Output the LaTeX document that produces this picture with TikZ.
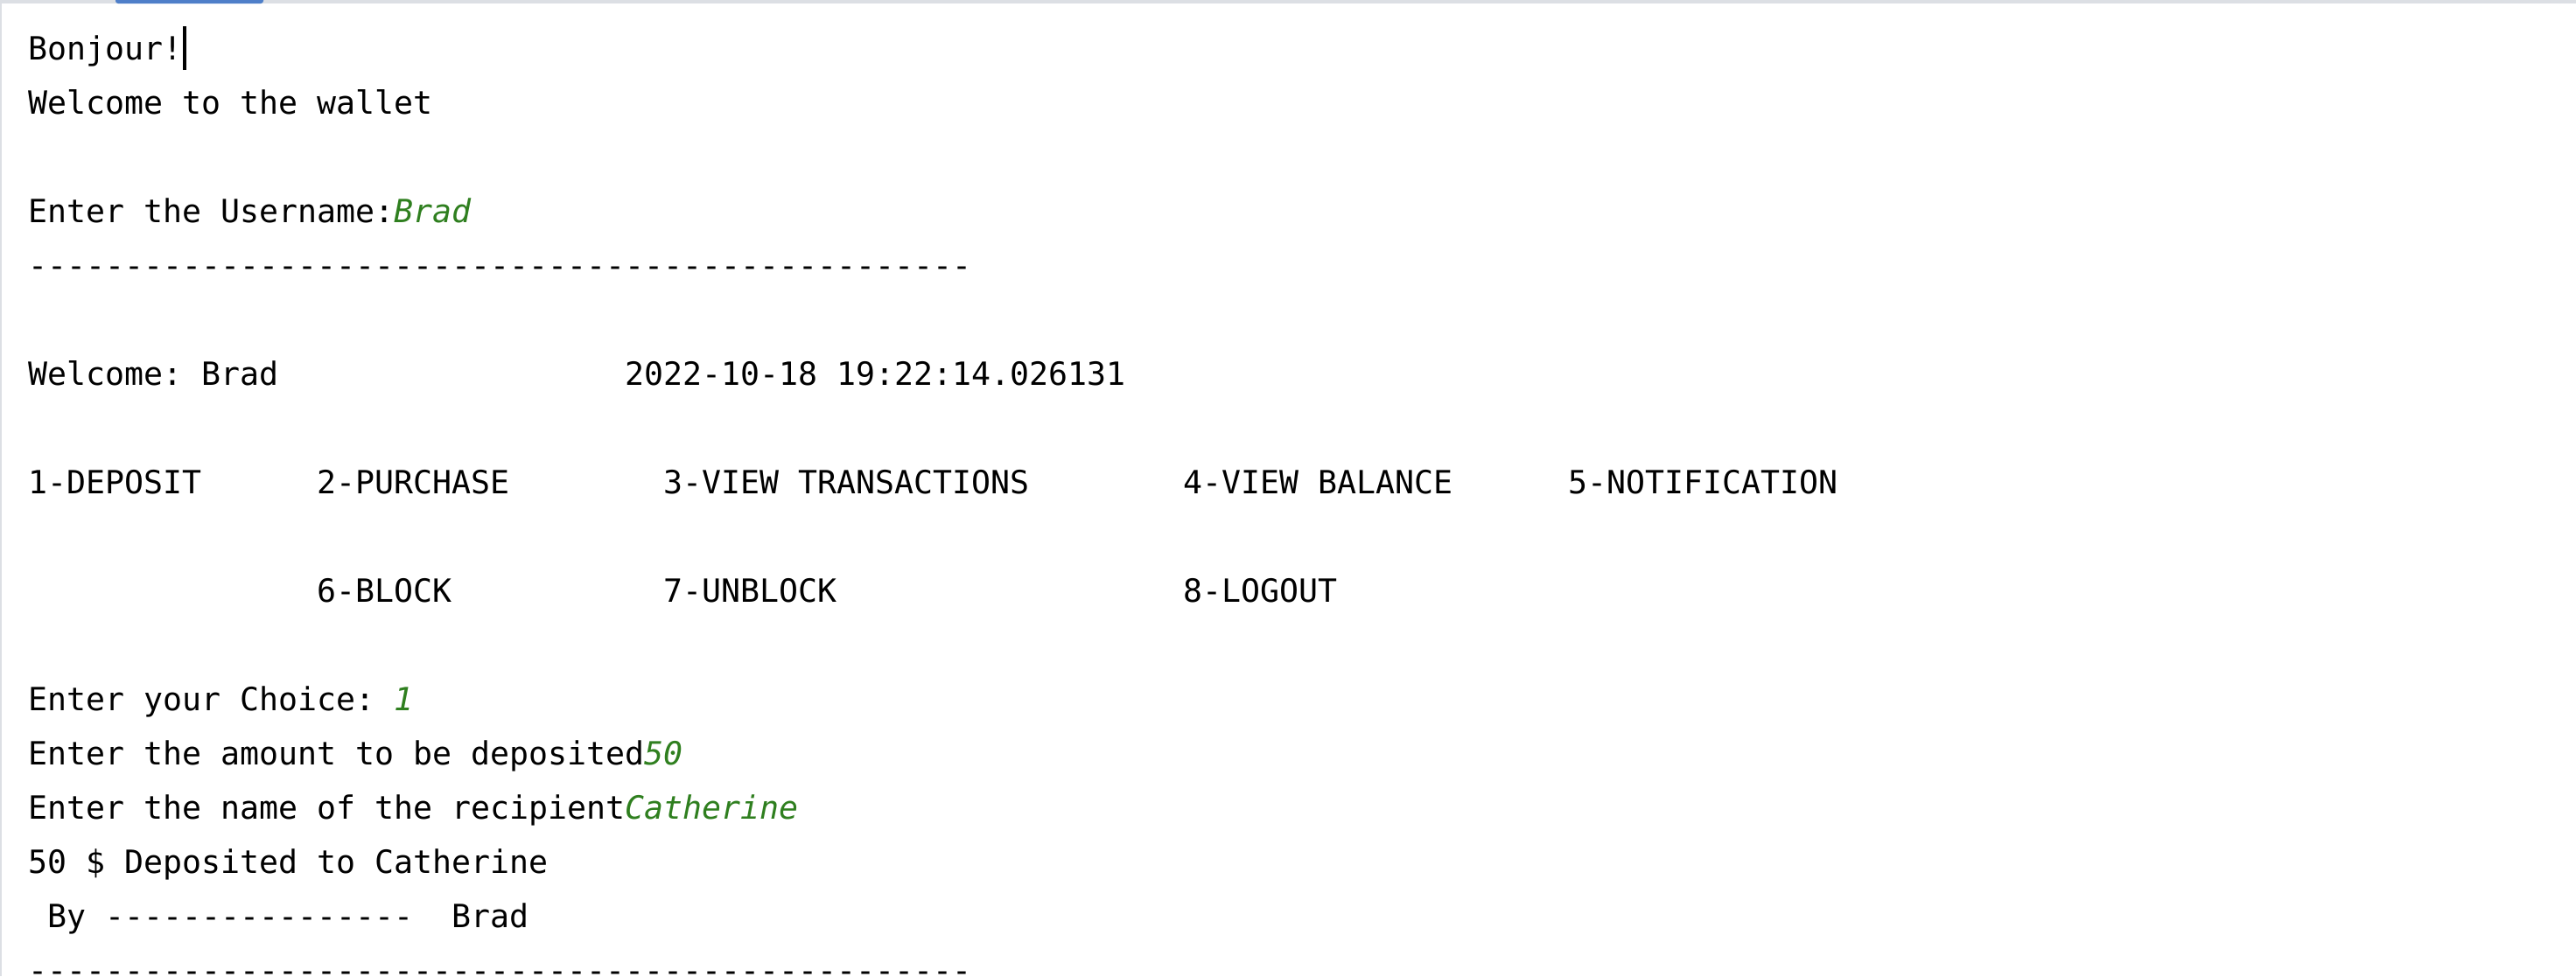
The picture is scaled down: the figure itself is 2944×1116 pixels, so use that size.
\documentclass[tikz,border=0pt]{standalone}
\usepackage{fontspec}
\setmonofont{DejaVu Sans Mono}
\definecolor{inputgreen}{HTML}{2F7F1F}
\definecolor{tabblue}{HTML}{4F7FC9}
\definecolor{framegray}{HTML}{DCDFE4}

\begin{document}
\begin{tikzpicture}[
    x=0.5pt, y=-0.5pt,
    console/.style={anchor=base west, inner sep=0pt, text=black,
        font=\ttfamily\fontsize{18.27pt}{31pt}\selectfont},
    typed/.style={console, text=inputgreen,
        font=\ttfamily\itshape\fontsize{18.27pt}{31pt}\selectfont},
    cursor/.style={line width=2pt, black}
]
    \useasboundingbox (0,0) rectangle (2944,1116);
    \clip (0,0) rectangle (2944,1116);
    % frame of the run window
    \fill[framegray] (0,0) rectangle (2944,4);
    \fill[framegray] (0,0) rectangle (2,1116);
    \fill[tabblue, rounded corners=1.5pt] (132,-6) rectangle (301,4);
    \node[console] (hello) at (32,68) {Bonjour!};
    \node[console] (wallet) at (32,130) {Welcome to the wallet};
    \node[console] (askuser) at (32,254) {Enter the Username:};
    \node[typed] (username) at (450,254) {Brad};
    \node[console] (rule1) at (32,316) {-------------------------------------------------};
    \node[console] (greet) at (32,440) {Welcome: Brad};
    \node[console] (stamp) at (714,440) {2022-10-18 19:22:14.026131};
    \node[console] (deposit) at (32,564) {1-DEPOSIT};
    \node[console] (purchase) at (362,564) {2-PURCHASE};
    \node[console] (history) at (758,564) {3-VIEW TRANSACTIONS};
    \node[console] (balance) at (1352,564) {4-VIEW BALANCE};
    \node[console] (notify) at (1792,564) {5-NOTIFICATION};
    \node[console] (block) at (362,688) {6-BLOCK};
    \node[console] (unblock) at (758,688) {7-UNBLOCK};
    \node[console] (logout) at (1352,688) {8-LOGOUT};
    \node[console] (askchoice) at (32,812) {Enter your Choice:};
    \node[typed] (choice) at (450,812) {1};
    \node[console] (askamount) at (32,874) {Enter the amount to be deposited};
    \node[typed] (amount) at (736,874) {50};
    \node[console] (askname) at (32,936) {Enter the name of the recipient};
    \node[typed] (recipient) at (714,936) {Catherine};
    \node[console] (done) at (32,998) {50 \$ Deposited to Catherine};
    \node[console] (by) at (54,1060) {By ----------------};
    \node[console] (sender) at (516,1060) {Brad};
    \node[console] (rule2) at (32,1122) {-------------------------------------------------};
    \draw[cursor] (hello.base east) ++(2,12) -- ++(0,-50);
\end{tikzpicture}
\end{document}
